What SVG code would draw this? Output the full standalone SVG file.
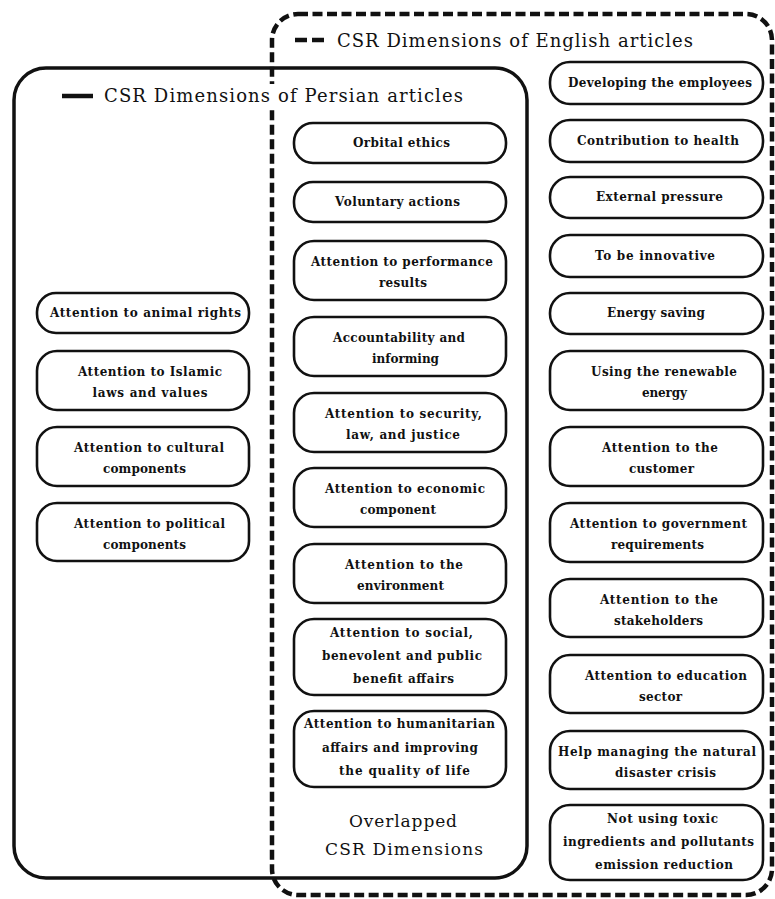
<svg xmlns="http://www.w3.org/2000/svg" width="775" height="899" viewBox="0 0 775 899">
<style>
.n rect{fill:#fff;stroke:#111;stroke-width:2.6}
.n text{font-family:"DejaVu Serif","Liberation Serif",serif;font-weight:bold;font-size:12px;fill:#111;text-anchor:middle}
.lg{font-family:"DejaVu Serif","Liberation Serif",serif;font-size:18px;fill:#111}
.ov{font-family:"DejaVu Serif","Liberation Serif",serif;font-size:17px;fill:#111;text-anchor:middle}
</style>
<rect width="775" height="899" fill="#fff"/>
<g id="connectors"></g>
<g id="persian-box">
<rect x="14" y="68" width="513" height="810" rx="32" fill="none" stroke="#111" stroke-width="3.5"/>
</g>
<g id="english-box">
<rect x="272" y="14" width="500" height="881" rx="26" fill="none" stroke="#111" stroke-width="4.5" stroke-dasharray="10 4.5"/>
</g>
<g id="legend-persian">
<rect x="100" y="84" width="370" height="24" fill="#fff"/>
<line x1="62" y1="96" x2="93" y2="96" stroke="#111" stroke-width="4.5"/>
<text class="lg" x="104" y="102" textLength="359" lengthAdjust="spacing">CSR Dimensions of Persian articles</text>
</g>
<g id="legend-english">
<line x1="295" y1="40" x2="327" y2="40" stroke="#111" stroke-width="4.5" stroke-dasharray="12 5"/>
<text class="lg" x="337" y="47" textLength="356" lengthAdjust="spacing">CSR Dimensions of English articles</text>
</g>
<g id="overlap-label">
<text class="ov" x="403" y="827" textLength="108" lengthAdjust="spacing">Overlapped</text>
<text class="ov" x="404" y="855" textLength="158" lengthAdjust="spacing">CSR Dimensions</text>
</g>

<!-- Persian only -->
<g id="p1" class="n"><rect x="37" y="293" width="212" height="40" rx="19"/><text x="145.5" y="317" textLength="191" lengthAdjust="spacing">Attention to animal rights</text></g>
<g id="p2" class="n"><rect x="37" y="351" width="212" height="59" rx="20"/><text x="150" y="376" textLength="144" lengthAdjust="spacing">Attention to Islamic</text><text x="150" y="397" textLength="115" lengthAdjust="spacing">laws and values</text></g>
<g id="p3" class="n"><rect x="37" y="427" width="212" height="59" rx="20"/><text x="149" y="452" textLength="150" lengthAdjust="spacing">Attention to cultural</text><text x="144.5" y="473" textLength="83" lengthAdjust="spacing">components</text></g>
<g id="p4" class="n"><rect x="37" y="503" width="212" height="58" rx="20"/><text x="149.5" y="528" textLength="151" lengthAdjust="spacing">Attention to political</text><text x="144.5" y="549" textLength="83" lengthAdjust="spacing">components</text></g>

<!-- Overlapped -->
<g id="o1" class="n"><rect x="294" y="123" width="212" height="40" rx="19"/><text x="401.5" y="147" textLength="97" lengthAdjust="spacing">Orbital ethics</text></g>
<g id="o2" class="n"><rect x="294" y="182" width="212" height="40" rx="19"/><text x="397.5" y="206" textLength="125" lengthAdjust="spacing">Voluntary actions</text></g>
<g id="o3" class="n"><rect x="294" y="241" width="212" height="59" rx="20"/><text x="402" y="266" textLength="182" lengthAdjust="spacing">Attention to performance</text><text x="403" y="287" textLength="48" lengthAdjust="spacing">results</text></g>
<g id="o4" class="n"><rect x="294" y="317" width="212" height="59" rx="20"/><text x="399" y="342" textLength="132" lengthAdjust="spacing">Accountability and</text><text x="405.5" y="363" textLength="67" lengthAdjust="spacing">informing</text></g>
<g id="o5" class="n"><rect x="294" y="393" width="212" height="59" rx="20"/><text x="403.5" y="418" textLength="157" lengthAdjust="spacing">Attention to security,</text><text x="403" y="439" textLength="114" lengthAdjust="spacing">law, and justice</text></g>
<g id="o6" class="n"><rect x="294" y="468" width="212" height="59" rx="20"/><text x="405" y="493" textLength="160" lengthAdjust="spacing">Attention to economic</text><text x="398" y="514" textLength="76" lengthAdjust="spacing">component</text></g>
<g id="o7" class="n"><rect x="294" y="544" width="212" height="59" rx="20"/><text x="404" y="569" textLength="118" lengthAdjust="spacing">Attention to the</text><text x="400.5" y="590" textLength="87" lengthAdjust="spacing">environment</text></g>
<g id="o8" class="n"><rect x="294" y="619" width="212" height="76" rx="20"/><text x="401.5" y="637" textLength="143" lengthAdjust="spacing">Attention to social,</text><text x="402" y="660" textLength="160" lengthAdjust="spacing">benevolent and public</text><text x="403.5" y="683" textLength="101" lengthAdjust="spacing">benefit affairs</text></g>
<g id="o9" class="n"><rect x="294" y="711" width="212" height="76" rx="20"/><text x="399.5" y="728" textLength="191" lengthAdjust="spacing">Attention to humanitarian</text><text x="400" y="752" textLength="156" lengthAdjust="spacing">affairs and improving</text><text x="404.5" y="775" textLength="131" lengthAdjust="spacing">the quality of life</text></g>

<!-- English only -->
<g id="e1" class="n"><rect x="550" y="62" width="213" height="42" rx="20"/><text x="660" y="87" textLength="184" lengthAdjust="spacing">Developing the employees</text></g>
<g id="e2" class="n"><rect x="550" y="120" width="213" height="42" rx="20"/><text x="658" y="145" textLength="162" lengthAdjust="spacing">Contribution to health</text></g>
<g id="e3" class="n"><rect x="550" y="177" width="213" height="41" rx="20"/><text x="659.5" y="201" textLength="127" lengthAdjust="spacing">External pressure</text></g>
<g id="e4" class="n"><rect x="550" y="235" width="213" height="42" rx="20"/><text x="655" y="260" textLength="120" lengthAdjust="spacing">To be innovative</text></g>
<g id="e5" class="n"><rect x="550" y="293" width="213" height="41" rx="20"/><text x="656" y="317" textLength="98" lengthAdjust="spacing">Energy saving</text></g>
<g id="e6" class="n"><rect x="550" y="351" width="213" height="59" rx="20"/><text x="664" y="376" textLength="146" lengthAdjust="spacing">Using the renewable</text><text x="664.5" y="397" textLength="45" lengthAdjust="spacing">energy</text></g>
<g id="e7" class="n"><rect x="550" y="427" width="213" height="59" rx="20"/><text x="660" y="452" textLength="116" lengthAdjust="spacing">Attention to the</text><text x="661.5" y="473" textLength="65" lengthAdjust="spacing">customer</text></g>
<g id="e8" class="n"><rect x="550" y="503" width="213" height="59" rx="20"/><text x="658.5" y="528" textLength="177" lengthAdjust="spacing">Attention to government</text><text x="657.5" y="549" textLength="93" lengthAdjust="spacing">requirements</text></g>
<g id="e9" class="n"><rect x="550" y="579" width="213" height="58" rx="20"/><text x="659" y="604" textLength="118" lengthAdjust="spacing">Attention to the</text><text x="658.5" y="625" textLength="89" lengthAdjust="spacing">stakeholders</text></g>
<g id="e10" class="n"><rect x="550" y="655" width="213" height="58" rx="20"/><text x="666" y="680" textLength="162" lengthAdjust="spacing">Attention to education</text><text x="660.5" y="701" textLength="43" lengthAdjust="spacing">sector</text></g>
<g id="e11" class="n"><rect x="550" y="731" width="213" height="58" rx="20"/><text x="657" y="756" textLength="198" lengthAdjust="spacing">Help managing the natural</text><text x="665.5" y="777" textLength="101" lengthAdjust="spacing">disaster crisis</text></g>
<g id="e12" class="n"><rect x="550" y="805" width="213" height="75" rx="20"/><text x="662.5" y="823" textLength="111" lengthAdjust="spacing">Not using toxic</text><text x="658.5" y="846" textLength="191" lengthAdjust="spacing">ingredients and pollutants</text><text x="664" y="869" textLength="138" lengthAdjust="spacing">emission reduction</text></g>
</svg>
